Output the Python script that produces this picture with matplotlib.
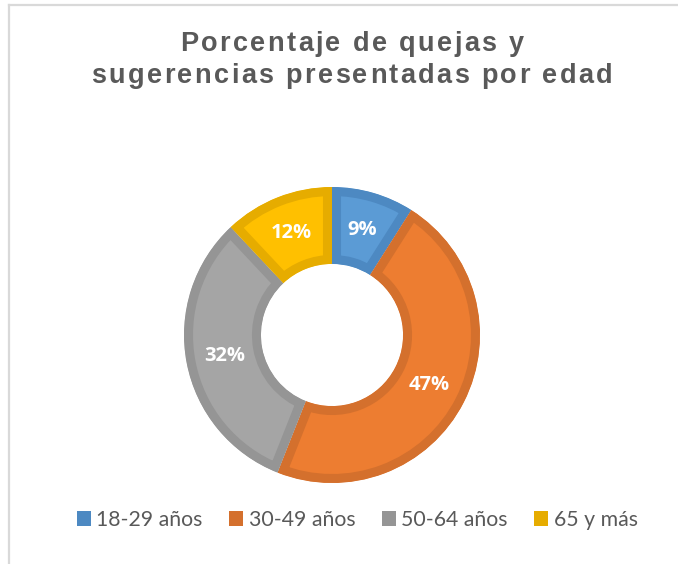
import matplotlib.pyplot as plt
from matplotlib.patches import Patch
from matplotlib.lines import Line2D

categories = ['18-29 años', '30-49 años', '50-64 años', '65 y más']
percentages = [9, 47, 32, 12]
fill_colors = ['#5B9BD5', '#ED7D31', '#A5A5A5', '#FFC000']
edge_colors = ['#4D89C2', '#D4702D', '#959595', '#E6AC00']
title_lines = ['Porcentaje de quejas y', 'sugerencias presentadas por edad']

W, H = 678, 564
fig = plt.figure(figsize=(W / 100, H / 100), dpi=100)
fig.patch.set_facecolor('white')


def spaced_text(fig, line, xc, y_px, spacing_px, **kw):
    """Draw a line of text centred at xc (px) with extra letter spacing."""
    renderer = fig.canvas.get_renderer()
    probe = fig.text(0, 0, '', **kw)
    offsets = []
    for i in range(len(line) + 1):
        probe.set_text(line[:i] if i else '')
        w = probe.get_window_extent(renderer).width if i else 0.0
        offsets.append(w + i * spacing_px)
    probe.remove()
    total = offsets[-1] - spacing_px
    x0 = xc - total / 2
    for ch, off in zip(line, offsets[:-1]):
        if ch != ' ':
            fig.text((x0 + off) / W, 1 - y_px / H, ch, ha='left', va='baseline', **kw)


# donut centre / radius in pixels
cx, cy, r = 332, 335, 148
ax = fig.add_axes([(cx - r) / W, (H - cy - r) / H, 2 * r / W, 2 * r / H])

wedges, texts, autotexts = ax.pie(
    percentages, colors=fill_colors, startangle=90, counterclock=False,
    radius=1.0, autopct='%d%%', pctdistance=0.74,
    wedgeprops=dict(width=0.52, linewidth=0),
    textprops=dict(color='white', fontsize=14.5, fontweight='bold', family='Open Sans'))

# inner border: double-width stroke clipped to the wedge itself
for w, ec in zip(wedges, edge_colors):
    w.set_edgecolor(ec)
    w.set_linewidth(13)
    w.set_clip_on(True)
    w.set_clip_path(w)

ax.set_xlim(-1, 1)
ax.set_ylim(-1, 1)
ax.set_aspect('equal')
ax.axis('off')

title_kw = dict(fontsize=19.5, fontweight='bold', color='#595959', family='Liberation Sans')
spaced_text(fig, title_lines[0], 352, 51, 2.4, **title_kw)
spaced_text(fig, title_lines[1], 352, 83, 2.4, **title_kw)

handles = [Patch(facecolor=c, edgecolor='none') for c in edge_colors]
fig.legend(handles, categories, loc='center left', bbox_to_anchor=(77 / W, 1 - 520 / H),
           ncol=4, frameon=False, borderpad=0, borderaxespad=0,
           handlelength=0.66, handleheight=0.66, handletextpad=0.25, columnspacing=1.25,
           prop=dict(family='Lato', size=15.3), labelcolor='#595959')

# chart area border (top and left visible)
fig.add_artist(Line2D([9 / W, 9 / W], [0, 1 - 5 / H], transform=fig.transFigure,
                      color='#D9D9D9', linewidth=1.6))
fig.add_artist(Line2D([9 / W, 1], [1 - 5 / H, 1 - 5 / H], transform=fig.transFigure,
                      color='#D9D9D9', linewidth=1.6))

fig.savefig('out.png', dpi=100)
